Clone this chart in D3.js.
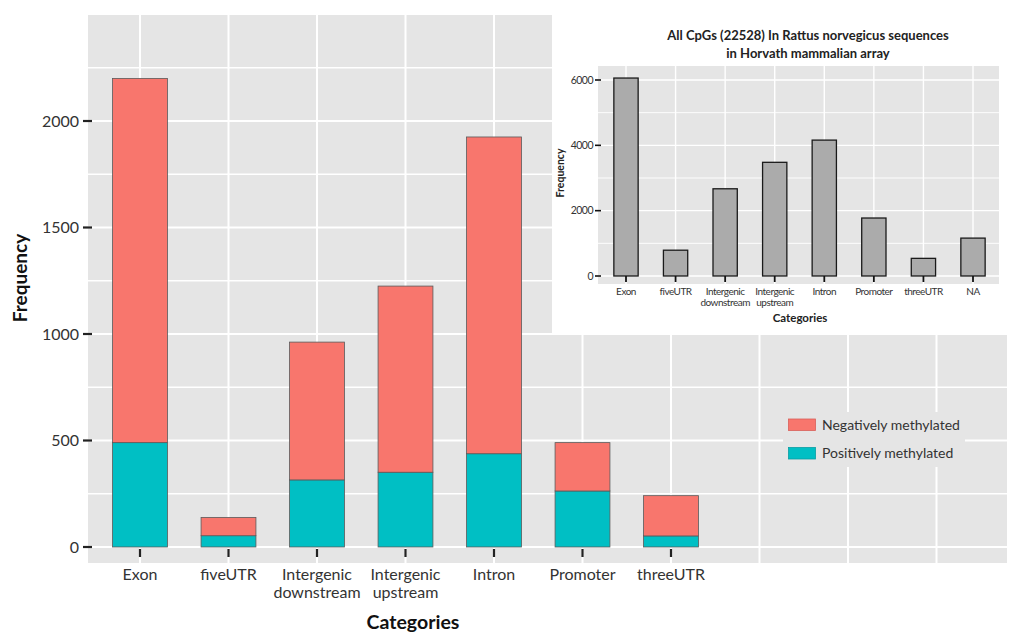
<!DOCTYPE html>
<html>
<head>
<meta charset="utf-8">
<script src="https://cdn.jsdelivr.net/npm/d3@7"></script>
<style>
  html, body { margin: 0; padding: 0; background: #fff; }
  svg { display: block; font-family: "Lato", "Open Sans", sans-serif; }
</style>
</head>
<body>
<svg id="chart" width="1010" height="634"></svg>
<script>
// ---------------- data ----------------
const categories = ["Exon", "fiveUTR", "Intergenic downstream", "Intergenic upstream", "Intron", "Promoter", "threeUTR"];
const positiveValues = [490, 53, 315, 351, 438, 263, 52];
const negativeValues = [1710, 86, 647, 874, 1487, 227, 189];
const seriesNames = ["Negatively methylated", "Positively methylated"];
const seriesColors = ["#F8766D", "#00BFC4"];
const yTicks = [0, 500, 1000, 1500, 2000];
const yMinorTicks = [250, 750, 1250, 1750, 2250];
const gridSlots = 10; // discrete x grid positions in the main panel

const insetCategories = ["Exon", "fiveUTR", "Intergenic downstream", "Intergenic upstream", "Intron", "Promoter", "threeUTR", "NA"];
const insetValues = [6060, 790, 2670, 3480, 4160, 1775, 540, 1160];
const insetYTicks = [0, 2000, 4000, 6000];
const insetYMinor = [1000, 3000, 5000];
const insetTitle = ["All CpGs (22528) In Rattus norvegicus sequences", "in Horvath mammalian array"];

// ---------------- main chart ----------------
const svg = d3.select("#chart");
const panel = { left: 88, right: 1007, top: 15, bottom: 563 };
const x = d3.scaleLinear().domain([0, 6]).range([140, 671]);
const y = d3.scaleLinear().domain([0, 2000]).range([547, 121]);
const barW = (x(1) - x(0)) * 0.62;

svg.append("rect").attr("x", 0).attr("y", 0).attr("width", 1010).attr("height", 634).attr("fill", "#fff");
svg.append("rect").attr("x", panel.left).attr("y", panel.top)
  .attr("width", panel.right - panel.left).attr("height", panel.bottom - panel.top).attr("fill", "#e5e5e5");

const grid = svg.append("g");
grid.selectAll(".hmin").data(yMinorTicks).join("line")
  .attr("x1", panel.left).attr("x2", panel.right).attr("y1", d => y(d)).attr("y2", d => y(d))
  .attr("stroke", "#fff").attr("stroke-width", 1.3);
grid.selectAll(".hmaj").data(yTicks).join("line")
  .attr("x1", panel.left).attr("x2", panel.right).attr("y1", d => y(d)).attr("y2", d => y(d))
  .attr("stroke", "#fff").attr("stroke-width", 2);
grid.selectAll(".vmaj").data(d3.range(gridSlots)).join("line")
  .attr("x1", d => x(d)).attr("x2", d => x(d)).attr("y1", panel.top).attr("y2", panel.bottom)
  .attr("stroke", "#fff").attr("stroke-width", 2);

// stacked bars
const stackData = categories.map((c, i) => ({ cat: c, i: i, pos: positiveValues[i], neg: negativeValues[i] }));
const stack = d3.stack().keys(["pos", "neg"])(stackData);
const colorFor = { pos: seriesColors[1], neg: seriesColors[0] };
svg.append("g").selectAll("g").data(stack).join("g")
  .attr("fill", d => colorFor[d.key])
  .selectAll("rect").data(d => d).join("rect")
  .attr("x", d => x(d.data.i) - barW / 2)
  .attr("width", barW)
  .attr("y", d => y(d[1]))
  .attr("height", d => y(d[0]) - y(d[1]))
  .attr("stroke", "#5a5a5a").attr("stroke-width", 0.8);

// axes
const yAxis = svg.append("g");
yAxis.selectAll("line").data(yTicks).join("line")
  .attr("x1", 83).attr("x2", 92).attr("y1", d => y(d)).attr("y2", d => y(d))
  .attr("stroke", "#222").attr("stroke-width", 2.2);
yAxis.selectAll("text").data(yTicks).join("text")
  .attr("x", 79).attr("y", d => y(d)).attr("dy", "0.35em").attr("text-anchor", "end")
  .attr("font-size", 16).attr("fill", "#333").text(d => d);

const xAxis = svg.append("g");
xAxis.selectAll("line").data(categories).join("line")
  .attr("x1", (d, i) => x(i)).attr("x2", (d, i) => x(i)).attr("y1", 549).attr("y2", 557)
  .attr("stroke", "#222").attr("stroke-width", 2.2);
xAxis.selectAll("text").data(categories).join("text")
  .attr("x", (d, i) => x(i)).attr("y", 580).attr("text-anchor", "middle")
  .attr("font-size", 16).attr("fill", "#333")
  .each(function (d) {
    const parts = d.split(" ");
    const t = d3.select(this);
    parts.forEach((p, k) => t.append("tspan").attr("x", t.attr("x")).attr("dy", k === 0 ? 0 : 17.5).text(p));
  });

svg.append("text").attr("x", 413).attr("y", 629).attr("text-anchor", "middle")
  .attr("font-size", 19.5).attr("font-weight", "bold").attr("fill", "#111").text("Categories");
svg.append("text").attr("transform", "translate(27,278) rotate(-90)").attr("text-anchor", "middle")
  .attr("font-size", 19).attr("font-weight", "bold").attr("fill", "#111").text("Frequency");

// legend
const legend = svg.append("g");
legend.append("rect").attr("x", 783).attr("y", 412).attr("width", 182).attr("height", 55).attr("fill", "#e5e5e5");
seriesNames.forEach((name, k) => {
  const yy = 419 + k * 28.5;
  legend.append("rect").attr("x", 788.5).attr("y", yy).attr("width", 27).attr("height", 11.5)
    .attr("fill", seriesColors[k]).attr("stroke", k === 0 ? "#d9605a" : "#0a9ea3").attr("stroke-width", 0.8);
  legend.append("text").attr("x", 822).attr("y", yy + 6).attr("dy", "0.35em")
    .attr("font-size", 14).attr("fill", "#333").text(name);
});

// ---------------- inset chart ----------------
const inset = svg.append("g");
inset.append("rect").attr("x", 552).attr("y", 0).attr("width", 458).attr("height", 333).attr("fill", "#fff");
const ip = { left: 598, right: 999, top: 66, bottom: 284 };
const ix = d3.scaleLinear().domain([0, 7]).range([626, 973]);
const iy = d3.scaleLinear().domain([0, 6000]).range([276, 80]);
const ibarW = (ix(1) - ix(0)) * 0.49;

inset.append("rect").attr("x", ip.left).attr("y", ip.top).attr("width", ip.right - ip.left)
  .attr("height", ip.bottom - ip.top).attr("fill", "#e5e5e5");
inset.selectAll(".imin").data(insetYMinor).join("line")
  .attr("x1", ip.left).attr("x2", ip.right).attr("y1", d => iy(d)).attr("y2", d => iy(d))
  .attr("stroke", "#fff").attr("stroke-width", 0.9);
inset.selectAll(".imaj").data(insetYTicks).join("line")
  .attr("x1", ip.left).attr("x2", ip.right).attr("y1", d => iy(d)).attr("y2", d => iy(d))
  .attr("stroke", "#fff").attr("stroke-width", 1.4);
inset.selectAll(".iv").data(insetCategories).join("line")
  .attr("x1", (d, i) => ix(i)).attr("x2", (d, i) => ix(i)).attr("y1", ip.top).attr("y2", ip.bottom)
  .attr("stroke", "#fff").attr("stroke-width", 1.4);

inset.selectAll(".ibar").data(insetValues).join("rect")
  .attr("x", (d, i) => ix(i) - ibarW / 2).attr("width", ibarW)
  .attr("y", d => iy(d)).attr("height", d => iy(0) - iy(d))
  .attr("fill", "#ababab").attr("stroke", "#1a1a1a").attr("stroke-width", 1.3);

inset.selectAll(".iyt").data(insetYTicks).join("line")
  .attr("x1", ip.left - 3).attr("x2", ip.left + 3).attr("y1", d => iy(d)).attr("y2", d => iy(d))
  .attr("stroke", "#111").attr("stroke-width", 1.6);
inset.selectAll(".iyl").data(insetYTicks).join("text")
  .attr("x", ip.left - 5).attr("y", d => iy(d)).attr("dy", "0.35em").attr("text-anchor", "end")
  .attr("font-size", 10.5).attr("fill", "#333").attr("letter-spacing", -0.5).text(d => d);
inset.selectAll(".ixt").data(insetCategories).join("line")
  .attr("x1", (d, i) => ix(i)).attr("x2", (d, i) => ix(i)).attr("y1", 276).attr("y2", 282)
  .attr("stroke", "#111").attr("stroke-width", 1.8);
inset.selectAll(".ixl").data(insetCategories).join("text")
  .attr("x", (d, i) => ix(i)).attr("y", 295).attr("text-anchor", "middle")
  .attr("font-size", 10).attr("fill", "#333").attr("letter-spacing", -0.5)
  .each(function (d) {
    const parts = d.split(" ");
    const t = d3.select(this);
    parts.forEach((p, k) => t.append("tspan").attr("x", t.attr("x")).attr("dy", k === 0 ? 0 : 11).text(p));
  });

inset.append("text").attr("x", 800).attr("y", 322).attr("text-anchor", "middle")
  .attr("font-size", 11.5).attr("font-weight", "bold").attr("fill", "#222").text("Categories");
inset.append("text").attr("transform", "translate(564,173) rotate(-90)").attr("text-anchor", "middle")
  .attr("font-size", 10.5).attr("font-weight", "bold").attr("fill", "#222").text("Frequency");
insetTitle.forEach((line, k) => {
  inset.append("text").attr("x", 808).attr("y", 40 + k * 18).attr("text-anchor", "middle")
    .attr("font-size", 13).attr("font-weight", "bold").attr("fill", "#222").text(line);
});
</script>
</body>
</html>
